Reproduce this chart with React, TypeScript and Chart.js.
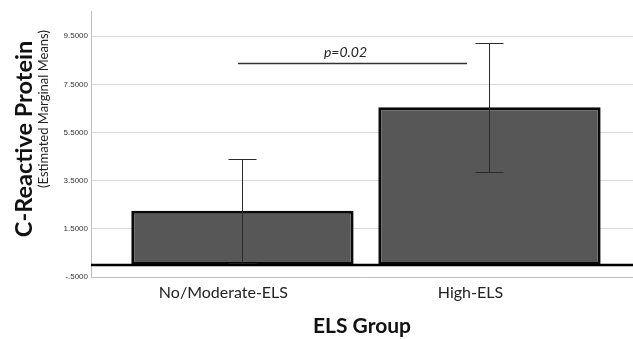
import React, { useEffect, useRef } from 'react';
import { Chart, registerables } from 'chart.js';

Chart.register(...registerables);

const categories = ['No/Moderate-ELS', 'High-ELS'];
const means = [2.25, 6.55];
const errLow = [0.08, 3.87];
const errHigh = [4.4, 9.2];
const yTicks = [-0.5, 1.5, 3.5, 5.5, 7.5, 9.5];
const yMin = -0.5;
const yMax = 10.55;
const xMin = -0.613;
const xMax = 1.581;
const sigLabel = 'p=0.02';
const sigStartX = -0.018;
const sigEndX = 0.909;
const sigY = 8.4;
const yTitle = 'C-Reactive Protein';
const ySubtitle = '(Estimated Marginal Means)';
const xTitle = 'ELS Group';

const FONT = 'Lato, "Open Sans", sans-serif';

function fmtTick(v: number): string {
  const s = v.toFixed(4);
  if (s.startsWith('-0.')) return '-' + s.slice(2);
  if (s.startsWith('0.')) return s.slice(1);
  return s;
}

const overlayPlugin = {
  id: 'overlay',
  afterDatasetsDraw(chart: any) {
    const { ctx, chartArea, scales } = chart;
    const xs = scales.x;
    const ys = scales.y;
    ctx.save();
    // error bars
    ctx.strokeStyle = '#2a2a2a';
    ctx.lineWidth = 1;
    const cap = 14;
    for (let i = 0; i < categories.length; i++) {
      const x = Math.round(xs.getPixelForValue(i)) + 0.5;
      const yh = Math.round(ys.getPixelForValue(errHigh[i])) + 0.5;
      const yl = Math.round(ys.getPixelForValue(errLow[i])) + 0.5;
      ctx.beginPath();
      ctx.moveTo(x, yh);
      ctx.lineTo(x, yl);
      ctx.moveTo(x - cap, yh);
      ctx.lineTo(x + cap, yh);
      ctx.moveTo(x - cap, yl);
      ctx.lineTo(x + cap, yl);
      ctx.stroke();
    }
    // zero baseline
    const y0 = ys.getPixelForValue(0);
    ctx.strokeStyle = '#000';
    ctx.lineWidth = 2.5;
    ctx.beginPath();
    ctx.moveTo(chartArea.left, y0);
    ctx.lineTo(chartArea.right, y0);
    ctx.stroke();
    // significance line
    const sx0 = xs.getPixelForValue(sigStartX);
    const sx1 = xs.getPixelForValue(sigEndX);
    const sy = Math.round(ys.getPixelForValue(sigY)) + 0.5;
    ctx.strokeStyle = '#333';
    ctx.lineWidth = 1.5;
    ctx.beginPath();
    ctx.moveTo(sx0, sy);
    ctx.lineTo(sx1, sy);
    ctx.stroke();
    ctx.fillStyle = '#222';
    ctx.font = 'italic 14px ' + FONT;
    ctx.textAlign = 'center';
    ctx.textBaseline = 'alphabetic';
    ctx.fillText(sigLabel, (sx0 + sx1) / 2 - 7, sy - 7);
    // y titles
    ctx.save();
    ctx.translate(24, 139);
    ctx.rotate(-Math.PI / 2);
    ctx.textAlign = 'center';
    ctx.textBaseline = 'middle';
    ctx.fillStyle = '#111';
    ctx.font = 'bold 23.5px ' + FONT;
    ctx.fillText(yTitle, 0, 0);
    ctx.restore();
    ctx.save();
    ctx.translate(44, 109);
    ctx.rotate(-Math.PI / 2);
    ctx.textAlign = 'center';
    ctx.textBaseline = 'middle';
    ctx.fillStyle = '#222';
    ctx.font = '13px ' + FONT;
    ctx.fillText(ySubtitle, 0, 0);
    ctx.restore();
    ctx.restore();
  },
};

export default function App() {
  const ref = useRef<HTMLCanvasElement | null>(null);
  useEffect(() => {
    if (!ref.current) return;
    const chart = new Chart(ref.current, {
      type: 'bar',
      data: {
        datasets: [
          {
            data: categories.map((_, i) => ({ x: i, y: means[i] })),
            backgroundColor: '#575757',
            borderColor: '#0a0a0a',
            borderWidth: 3,
            borderSkipped: false,
            barPercentage: 0.9,
            categoryPercentage: 1,
          },
        ],
      },
      options: {
        responsive: false,
        animation: false,
        events: [],
        layout: { padding: { top: 11, left: 0, right: 0, bottom: 0 } },
        plugins: {
          legend: { display: false },
          tooltip: { enabled: false },
        },
        scales: {
          x: {
            type: 'linear',
            min: xMin,
            max: xMax,
            offset: false,
            afterBuildTicks: (s: any) => {
              s.ticks = categories.map((_, i) => ({ value: i }));
            },
            afterFit: (s: any) => {
              s.height = 62;
            },
            ticks: {
              callback: (v: any) => categories[v as number] ?? '',
              font: { family: FONT, size: 16 },
              color: '#222',
              padding: 6,
              labelOffset: -19,
              maxRotation: 0,
              autoSkip: false,
            },
            grid: { display: false, drawTicks: false, offset: false },
            border: { display: true, color: '#bdbdbd', width: 1 },
            title: {
              display: true,
              text: xTitle,
              font: { family: FONT, size: 21, weight: 'bold', lineHeight: 1.2 },
              color: '#111',
              padding: { top: 0, bottom: 0 },
            },
          },
          y: {
            type: 'linear',
            min: yMin,
            max: yMax,
            afterBuildTicks: (s: any) => {
              s.ticks = yTicks.map((v) => ({ value: v }));
            },
            afterFit: (s: any) => {
              s.width = 91;
            },
            ticks: {
              callback: (v: any) => fmtTick(v as number),
              font: { family: '"Liberation Sans", Arial, sans-serif', size: 8 },
              color: '#333',
              padding: 3,
            },
            grid: { color: '#d9d9d9', lineWidth: 1, drawTicks: false },
            border: { display: true, color: '#bdbdbd', width: 1 },
          },
        },
      },
      plugins: [overlayPlugin],
    } as any);
    return () => chart.destroy();
  }, []);
  return (
    <div style={{ position: 'fixed', left: 0, top: 0, width: 633, height: 339, background: '#fff' }}>
      <canvas ref={ref} width={633} height={339} style={{ display: 'block' }} />
    </div>
  );
}
